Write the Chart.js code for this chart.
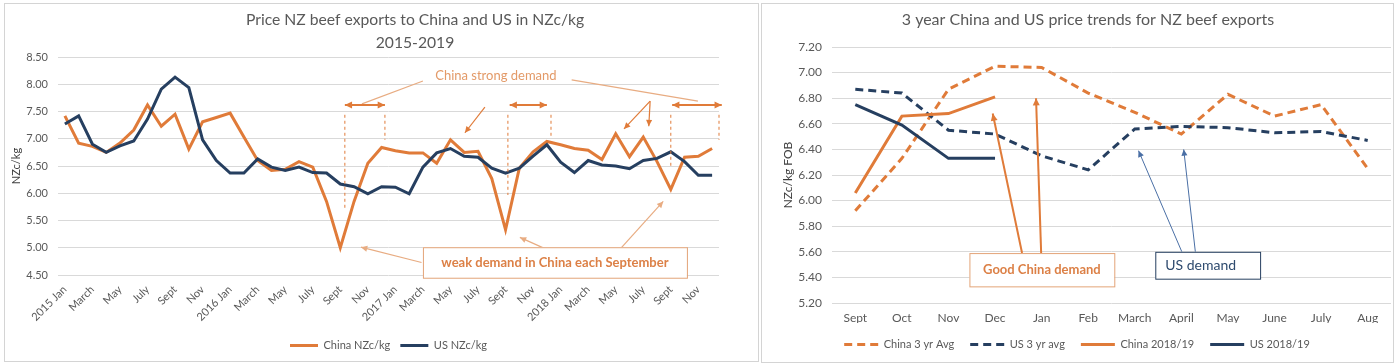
<!DOCTYPE html>
<html>
<head>
<meta charset="utf-8">
<script src="https://cdn.jsdelivr.net/npm/chart.js@4.4.0/dist/chart.umd.min.js"></script>
<style>
body { margin: 0; background: #fff; width: 1400px; height: 364px; position: relative; overflow: hidden; }
.panel { position: absolute; border: 1px solid #d4d4d4; box-sizing: border-box; }
#p1 { left: 4px; top: 3px; width: 755px; height: 359px; }
#p2 { left: 761px; top: 3px; width: 633px; height: 360px; }
canvas { position: absolute; }
</style>
</head>
<body>
<div class="panel" id="p1"></div>
<div class="panel" id="p2"></div>
<canvas id="c1" width="752" height="357" style="left:5px;top:4px"></canvas>
<canvas id="c2" width="629" height="357" style="left:763px;top:4px"></canvas>
<script>
// ---- data: left chart (monthly, 2015 Jan - 2018 Dec)
const years = [2015, 2016, 2017, 2018];
const monthNames = ['Jan', 'Feb', 'March', 'April', 'May', 'June', 'July', 'Aug', 'Sept', 'Oct', 'Nov', 'Dec'];
const chinaMonthly = [7.42, 6.92, 6.86, 6.75, 6.92, 7.16, 7.62, 7.23, 7.45, 6.81, 7.31, 7.39,
                      7.47, 7.03, 6.60, 6.42, 6.44, 6.58, 6.48, 5.85, 5.00, 5.85, 6.55, 6.84,
                      6.78, 6.74, 6.74, 6.55, 6.98, 6.75, 6.77, 6.27, 5.33, 6.46, 6.76, 6.95,
                      6.89, 6.82, 6.79, 6.62, 7.09, 6.67, 7.03, 6.58, 6.07, 6.66, 6.68, 6.82];
const usMonthly = [7.27, 7.42, 6.90, 6.75, 6.87, 6.96, 7.36, 7.91, 8.13, 7.94, 6.98, 6.60,
                   6.37, 6.37, 6.63, 6.48, 6.42, 6.48, 6.38, 6.37, 6.17, 6.12, 5.99, 6.12,
                   6.11, 5.99, 6.48, 6.74, 6.82, 6.68, 6.66, 6.46, 6.37, 6.46, 6.68, 6.89,
                   6.57, 6.38, 6.60, 6.52, 6.50, 6.45, 6.60, 6.64, 6.76, 6.58, 6.33, 6.33];

// ---- data: right chart (season Sept - Aug)
const seasonMonths = ['Sept', 'Oct', 'Nov', 'Dec', 'Jan', 'Feb', 'March', 'April', 'May', 'June', 'July', 'Aug'];
const china3yrAvg = [5.92, 6.33, 6.87, 7.05, 7.04, 6.84, 6.69, 6.52, 6.83, 6.66, 6.75, 6.25];
const us3yrAvg = [6.87, 6.84, 6.55, 6.52, 6.35, 6.24, 6.56, 6.58, 6.57, 6.53, 6.54, 6.47];
const china1819 = [6.06, 6.66, 6.68, 6.81];
const us1819 = [6.75, 6.59, 6.33, 6.33];

const ORANGE = '#E07B39';
const NAVY = '#263F60';
const GRID = '#D9D9D9';
const TICK = '#595959';
Chart.defaults.font.family = 'Lato, sans-serif';

const monthLabels = [];
years.forEach(y => monthNames.forEach((m, i) => monthLabels.push(i === 0 ? y + ' Jan' : m)));

// annotations in data units (category index, value)
const leftNotes = [
    {type: 'text', at: [31.3, 8.15], text: 'China strong demand', font: '13px Lato', color: '#E39A68'},
    {type: 'line', from: [21.57, 7.64], to: [26.0, 8.06], color: '#E8AC82', width: 1.2},
    {type: 'line', from: [36.8, 8.08], to: [45.97, 7.69], color: '#E8AC82', width: 1.2},
    {type: 'line', from: [20.33, 7.62], to: [23.24, 7.62], color: ORANGE, width: 2, head: 'both'},
    {type: 'line', from: [32.3, 7.62], to: [35.0, 7.62], color: ORANGE, width: 2, head: 'both'},
    {type: 'line', from: [44.1, 7.62], to: [47.7, 7.62], color: ORANGE, width: 2, head: 'both'},
    {type: 'line', from: [20.33, 7.44], to: [20.33, 5.73], color: ORANGE, width: 1, dash: [3, 3]},
    {type: 'line', from: [23.24, 7.44], to: [23.24, 6.98], color: ORANGE, width: 1, dash: [3, 3]},
    {type: 'line', from: [32.17, 7.44], to: [32.17, 5.97], color: ORANGE, width: 1, dash: [3, 3]},
    {type: 'line', from: [35.3, 7.44], to: [35.3, 7.03], color: ORANGE, width: 1, dash: [3, 3]},
    {type: 'line', from: [44.0, 7.44], to: [44.0, 6.46], color: ORANGE, width: 1, dash: [3, 3]},
    {type: 'line', from: [47.5, 7.44], to: [47.5, 6.98], color: ORANGE, width: 1, dash: [3, 3]},
    {type: 'line', from: [30.5, 7.58], to: [29.05, 7.11], color: ORANGE, width: 1.2, head: 'end'},
    {type: 'line', from: [42.5, 7.69], to: [40.6, 7.18], color: ORANGE, width: 1.2, head: 'end'},
    {type: 'line', from: [42.5, 7.69], to: [42.4, 7.23], color: ORANGE, width: 1.2, head: 'end'},
    {type: 'line', from: [25.9, 4.73], to: [21.5, 5.01], color: '#E8AC82', width: 1.2, head: 'end'},
    {type: 'line', from: [34.98, 4.97], to: [33.04, 5.19], color: '#E8AC82', width: 1.2, head: 'end'},
    {type: 'line', from: [40.3, 4.97], to: [43.45, 5.85], color: '#E8AC82', width: 1.2, head: 'end'},
    {type: 'box', from: [26.0, 5.01], to: [45.17, 4.45], color: '#E3A478',
     text: 'weak demand in China each September', font: 'bold 13px Lato', textColor: '#DC8046'}
];
const rightNotes = [
    {type: 'line', from: [3.58, 5.59], to: [2.95, 6.68], color: ORANGE, width: 2, head: 'end'},
    {type: 'line', from: [3.99, 5.59], to: [3.88, 6.80], color: ORANGE, width: 2, head: 'end'},
    {type: 'line', from: [7.01, 5.60], to: [6.08, 6.39], color: '#4A6FA5', width: 1, head: 'end'},
    {type: 'line', from: [7.30, 5.60], to: [7.05, 6.40], color: '#4A6FA5', width: 1, head: 'end'},
    {type: 'box', from: [2.45, 5.59], to: [5.56, 5.33], color: '#E3A478',
     text: 'Good China demand', font: 'bold 13px Lato', textColor: '#DC8046'},
    {type: 'box', from: [6.44, 5.60], to: [8.69, 5.39], color: NAVY,
     text: 'US demand', font: '14px Lato', textColor: '#2E4A6E', align: 'left'}
];

function arrowHead(ctx, x1, y1, x2, y2, size) {
    const a = Math.atan2(y2 - y1, x2 - x1);
    ctx.beginPath();
    ctx.moveTo(x2, y2);
    ctx.lineTo(x2 - size * Math.cos(a - 0.45), y2 - size * Math.sin(a - 0.45));
    ctx.lineTo(x2 - size * Math.cos(a + 0.45), y2 - size * Math.sin(a + 0.45));
    ctx.closePath();
    ctx.fill();
}

const notesPlugin = {
    id: 'notes',
    afterDatasetsDraw(chart, args, opts) {
        const {ctx} = chart;
        const xs = chart.scales.x, ys = chart.scales.y;
        const P = p => [xs.getPixelForValue(p[0]), ys.getPixelForValue(p[1])];
        ctx.save();
        (opts.items || []).forEach(n => {
            if (n.type === 'text') {
                const [x, y] = P(n.at);
                ctx.font = n.font;
                ctx.fillStyle = n.color;
                ctx.textAlign = 'center';
                ctx.textBaseline = 'middle';
                ctx.fillText(n.text, x, y);
            } else if (n.type === 'line') {
                const [x1, y1] = P(n.from), [x2, y2] = P(n.to);
                ctx.strokeStyle = n.color;
                ctx.fillStyle = n.color;
                ctx.lineWidth = n.width;
                ctx.setLineDash(n.dash || []);
                ctx.beginPath();
                ctx.moveTo(x1, y1);
                ctx.lineTo(x2, y2);
                ctx.stroke();
                ctx.setLineDash([]);
                const s = n.width > 1.5 ? 8 : 7;
                if (n.head === 'end' || n.head === 'both') arrowHead(ctx, x1, y1, x2, y2, s);
                if (n.head === 'both') arrowHead(ctx, x2, y2, x1, y1, s);
            } else if (n.type === 'box') {
                const [x1, y1] = P(n.from), [x2, y2] = P(n.to);
                ctx.fillStyle = '#fff';
                ctx.fillRect(x1, y1, x2 - x1, y2 - y1);
                ctx.strokeStyle = n.color;
                ctx.lineWidth = 1;
                ctx.strokeRect(x1 + 0.5, y1 + 0.5, x2 - x1, y2 - y1);
                ctx.font = n.font;
                ctx.fillStyle = n.textColor;
                ctx.textBaseline = 'middle';
                if (n.align === 'left') {
                    ctx.textAlign = 'left';
                    ctx.fillText(n.text, x1 + 10, (y1 + y2) / 2);
                } else {
                    ctx.textAlign = 'center';
                    ctx.fillText(n.text, (x1 + x2) / 2, (y1 + y2) / 2);
                }
            }
        });
        ctx.restore();
    }
};

const headPlugin = {
    id: 'head',
    afterDraw(chart, args, opts) {
        const {ctx} = chart;
        ctx.save();
        ctx.font = opts.font;
        ctx.fillStyle = opts.color;
        ctx.textAlign = 'center';
        ctx.textBaseline = 'middle';
        opts.lines.forEach((t, i) => ctx.fillText(t, opts.x, opts.y + i * 23));
        ctx.restore();
    }
};

function legendOpts(width, gap, full) {
    return {
        position: 'bottom',
        fullSize: full,
        labels: {
            color: TICK,
            font: {size: 11},
            usePointStyle: true,
            pointStyle: 'line',
            pointStyleWidth: width,
            padding: gap,
            sort: (a, b) => a.datasetIndex - b.datasetIndex,
            generateLabels: chart => Chart.defaults.plugins.legend.labels.generateLabels(chart).map(l => {
                const ds = chart.data.datasets[l.datasetIndex];
                return Object.assign(l, {
                    strokeStyle: ds.borderColor, lineWidth: ds.borderWidth,
                    lineDash: ds.borderDash || [], pointStyle: 'line'
                });
            })
        }
    };
}

new Chart(document.getElementById('c1').getContext('2d'), {
    type: 'line',
    data: {
        labels: monthLabels,
        datasets: [
            {label: 'China NZc/kg', data: chinaMonthly, borderColor: ORANGE, backgroundColor: ORANGE,
             borderWidth: 3, pointRadius: 0, tension: 0, order: 1},
            {label: 'US NZc/kg', data: usMonthly, borderColor: NAVY, backgroundColor: NAVY,
             borderWidth: 3, pointRadius: 0, tension: 0, order: 0}
        ]
    },
    options: {
        responsive: false,
        animation: false,
        layout: {padding: {top: 53, right: 38, bottom: 0, left: 0}},
        scales: {
            x: {
                offset: true,
                grid: {display: false, drawTicks: false},
                border: {display: false},
                afterFit: s => { s.height = 55; },
                ticks: {
                    autoSkip: false, minRotation: 45, maxRotation: 45, padding: 8,
                    color: TICK, font: {size: 11},
                    callback: function (v, i) { return i % 2 === 0 ? this.getLabelForValue(v) : null; }
                }
            },
            y: {
                min: 4.5, max: 8.5,
                afterFit: s => { s.width = 53; },
                grid: {color: GRID, drawTicks: false},
                border: {display: false},
                ticks: {stepSize: 0.5, padding: 10, color: TICK, font: {size: 11},
                        callback: v => v.toFixed(2)},
                title: {display: true, text: 'NZc/kg', color: '#404040', font: {size: 11},
                        padding: {top: 5, bottom: 0}}
            }
        },
        plugins: {
            legend: legendOpts(28, 10, false),
            tooltip: {enabled: false},
            notes: {items: leftNotes},
            head: {lines: ['Price NZ beef exports to China and US in NZc/kg', '2015-2019'],
                   x: 410, y: 16, font: '15.7px Lato', color: TICK}
        }
    },
    plugins: [notesPlugin, headPlugin]
});

new Chart(document.getElementById('c2').getContext('2d'), {
    type: 'line',
    data: {
        labels: seasonMonths,
        datasets: [
            {label: 'China 3 yr Avg', data: china3yrAvg, borderColor: ORANGE, backgroundColor: ORANGE,
             borderWidth: 3, borderDash: [8, 5], pointRadius: 0, tension: 0, order: 3},
            {label: 'US 3 yr avg', data: us3yrAvg, borderColor: NAVY, backgroundColor: NAVY,
             borderWidth: 3, borderDash: [8, 5], pointRadius: 0, tension: 0, order: 2},
            {label: 'China 2018/19', data: china1819, borderColor: ORANGE, backgroundColor: ORANGE,
             borderWidth: 3, pointRadius: 0, tension: 0, order: 1},
            {label: 'US 2018/19', data: us1819, borderColor: NAVY, backgroundColor: NAVY,
             borderWidth: 3, pointRadius: 0, tension: 0, order: 0}
        ]
    },
    options: {
        responsive: false,
        animation: false,
        layout: {padding: {top: 43, right: 1, bottom: 1, left: 0}},
        scales: {
            x: {
                offset: true,
                grid: {display: false, drawTicks: false},
                border: {display: false},
                afterFit: s => { s.height = 20; },
                ticks: {maxRotation: 0, padding: 8, color: TICK, font: {size: 12}}
            },
            y: {
                min: 5.2, max: 7.2,
                afterFit: s => { s.width = 69; },
                grid: {color: GRID, drawTicks: false},
                border: {display: false},
                ticks: {stepSize: 0.2, padding: 10, color: TICK, font: {size: 12},
                        callback: v => v.toFixed(2)},
                title: {display: true, text: 'NZc/kg FOB', color: '#404040', font: {size: 12},
                        padding: {top: 18, bottom: 0}}
            }
        },
        plugins: {
            legend: legendOpts(34, 16, true),
            tooltip: {enabled: false},
            notes: {items: rightNotes},
            head: {lines: ['3 year China and US price trends for NZ beef exports'],
                   x: 325, y: 16, font: '16px Lato', color: TICK}
        }
    },
    plugins: [notesPlugin, headPlugin]
});
</script>
</body>
</html>
